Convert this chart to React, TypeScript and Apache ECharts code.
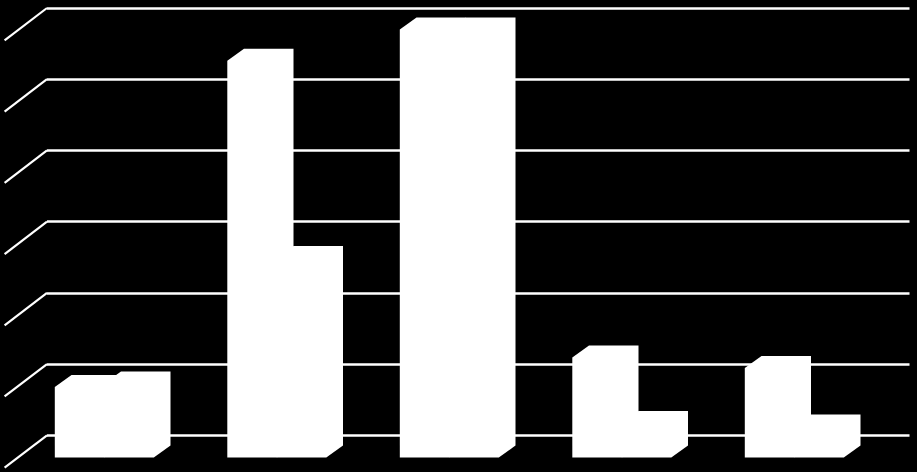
import React, { useEffect, useRef } from "react";
import * as echarts from "echarts";

const categories = ["1", "2", "3", "4", "5"];
const seriesA = [0.99, 5.57, 6.01, 1.405, 1.258];
const seriesB = [1.04, 2.8, 6.01, 0.486, 0.435];
const gridValues = [0, 1, 2, 3, 4, 5, 6];

const FLOOR_DX = 42.4;
const FLOOR_DY = 32.4;
const BAR_DX = 16.7;
const BAR_DY = 12;
const BAR_W = 49.5;
const BAR_SHIFT = 0.6;

function barRender(offsetIndex: number) {
  return (params: any, api: any) => {
    const c = api.coord([api.value(0), api.value(1)]);
    const base = api.coord([api.value(0), 0]);
    // bars stand at mid-depth of the floor
    const cx = c[0] - FLOOR_DX / 2 + BAR_SHIFT;
    const topMid = c[1] + FLOOR_DY / 2;
    const botMid = base[1] + FLOOR_DY / 2;
    const l = cx - BAR_DX / 2 + (offsetIndex - 1) * BAR_W;
    const r = l + BAR_W;
    const fb = botMid + BAR_DY / 2;
    const ft = topMid + BAR_DY / 2;
    const bt = topMid - BAR_DY / 2;
    const bb = botMid - BAR_DY / 2;
    return {
      type: "polygon",
      shape: {
        points: [
          [l, fb],
          [l, ft],
          [l + BAR_DX, bt],
          [r + BAR_DX, bt],
          [r + BAR_DX, bb],
          [r, fb],
        ],
      },
      style: { fill: "#ffffff" },
    };
  };
}

function floorRender(params: any, api: any) {
  const p = api.coord([0, api.value(0)]);
  const x = params.coordSys.x;
  return {
    type: "line",
    shape: { x1: x, y1: p[1], x2: x - FLOOR_DX, y2: p[1] + FLOOR_DY },
    style: { stroke: "#ffffff", lineWidth: 2.2 },
  };
}

export default function App() {
  const ref = useRef<HTMLDivElement>(null);
  useEffect(() => {
    document.body.style.margin = "0";
    document.body.style.background = "#000";
    document.body.style.overflow = "hidden";
    const chart = echarts.init(ref.current!, undefined, { renderer: "svg" });
    chart.setOption({
      animation: false,
      backgroundColor: "#000000",
      grid: { left: 47, right: 7.5, top: 8, bottom: 36.7 },
      xAxis: {
        type: "category",
        data: categories,
        axisLine: { show: false },
        axisTick: { show: false },
        axisLabel: { show: false },
      },
      yAxis: {
        type: "value",
        min: 0,
        max: 6,
        interval: 1,
        axisLine: { show: false },
        axisTick: { show: false },
        axisLabel: { show: false },
        splitLine: { show: true, lineStyle: { color: "#ffffff", width: 2.6 } },
      },
      series: [
        {
          type: "custom",
          renderItem: floorRender,
          data: gridValues.map((v) => [v]),
          encode: { y: 0 },
          clip: false,
          silent: true,
        },
        {
          type: "custom",
          name: "A",
          renderItem: barRender(0),
          data: seriesA.map((v, i) => [i, v]),
          encode: { x: 0, y: 1 },
          clip: false,
        },
        {
          type: "custom",
          name: "B",
          renderItem: barRender(1),
          data: seriesB.map((v, i) => [i, v]),
          encode: { x: 0, y: 1 },
          clip: false,
        },
      ],
    });
    return () => chart.dispose();
  }, []);
  return <div ref={ref} style={{ width: 917, height: 472, position: "absolute", left: 0, top: 0 }} />;
}
